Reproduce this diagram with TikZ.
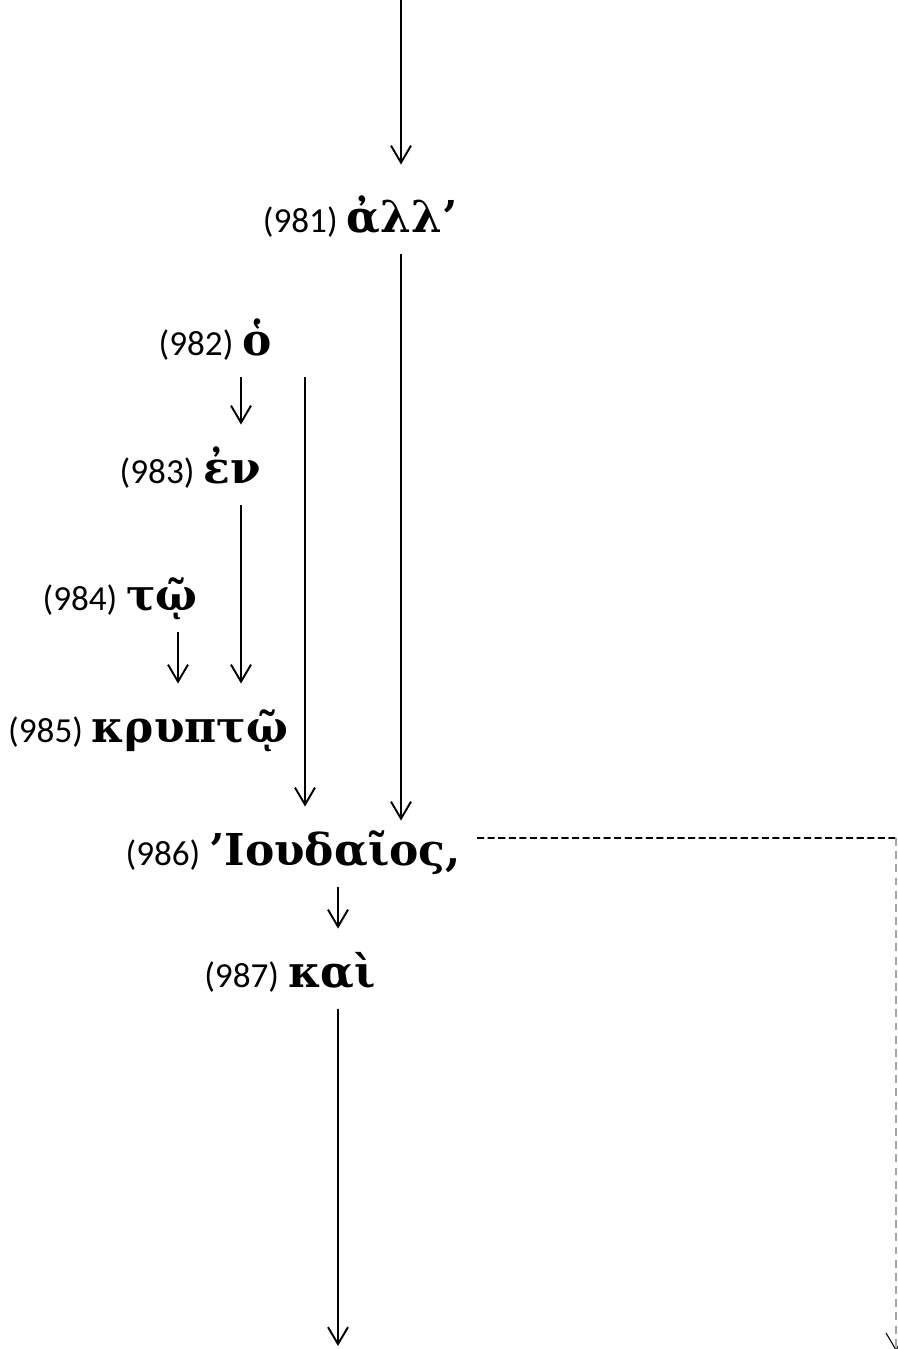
\documentclass[tikz,border=0pt]{standalone}
\usepackage{fontspec}
\setmainfont{Carlito}
\newfontfamily\greekfont{DejaVu Serif}
\usetikzlibrary{positioning,arrows.meta}

\begin{document}
\begin{tikzpicture}[line width = 1.1pt,
                    >={Straight Barb[length=3.4mm,width=4mm]},
                    word/.style = {anchor = base, inner xsep = 0.07cm, inner ysep = 0,
                                   text height = 1.15cm, text depth = 0.42cm,
                                   font = \greekfont\bfseries\fontsize{25}{30}\selectfont},
                    num/.style = {inner xsep = 0.07cm, inner ysep = 0,
                                  font = \fontsize{20}{24}\selectfont},
                    dashlink/.style = {dash pattern = on 4pt off 2pt, line width = 1pt},
                    greylink/.style = {dash pattern = on 4.5pt off 3pt, line width = 0.6pt, draw = gray!70}]

\useasboundingbox (0,0) rectangle (17.94,-26.98);

% words
\node[word] (w981) at (8.04,-4.64) {ἀλλ’};
\node[word] (w982) at (5.14,-7.10) {ὁ};
\node[word] (w983) at (4.64,-9.66) {ἐν};
\node[word] (w984) at (3.24,-12.20) {τῷ};
\node[word] (w985) at (3.80,-14.84) {κρυπτῷ};
\node[word] (w986) at (6.70,-17.30) {’Ιουδαῖος,};
\node[word] (w987) at (6.64,-19.74) {καὶ};

% numbers
\node[num, base left = 0cm of w981] (n981) {(981)};
\node[num, base left = 0cm of w982] (n982) {(982)};
\node[num, base left = 0cm of w983] (n983) {(983)};
\node[num, base left = 0cm of w984] (n984) {(984)};
\node[num, base left = 0cm of w985] (n985) {(985)};
\node[num, base left = 0cm of w986] (n986) {(986)};
\node[num, base left = 0cm of w987] (n987) {(987)};

% columns and free ends
\coordinate (top) at (8.02,0);
\coordinate (colB) at (6.10,0);
\coordinate (colC) at (4.82,0);
\coordinate (colD) at (3.56,0);
\coordinate (colE) at (6.76,0);
\coordinate (end987) at (6.76,-26.92);
\coordinate (corner) at (17.92,-16.76);
\coordinate (end986) at (17.92,-27.02);

\draw[->, shorten >= 0.18cm] (top) -- (w981.north -| top);
\draw[->, shorten >= -0.28cm] (w981.south -| top) -- (w986.north -| top);
\draw[->] (w982.south -| colB) -- (w986.north -| colB);
\draw[->] (w982.south -| colC) -- (w983.north -| colC);
\draw[->] (w983.south -| colC) -- (w985.north -| colC);
\draw[->] (w984.south -| colD) -- (w985.north -| colD);
\draw[->] (w986.south -| colE) -- (w987.north -| colE);
\draw[->] (w987.south -| colE) -- (end987);

\draw[dashlink] ([xshift = 0.24cm, yshift = 0.54cm]w986.base east) -- (corner);
\draw[greylink, -{Straight Barb[length=3.4mm,width=4mm,color=black]}] (corner) -- (end986);

\end{tikzpicture}
\end{document}
